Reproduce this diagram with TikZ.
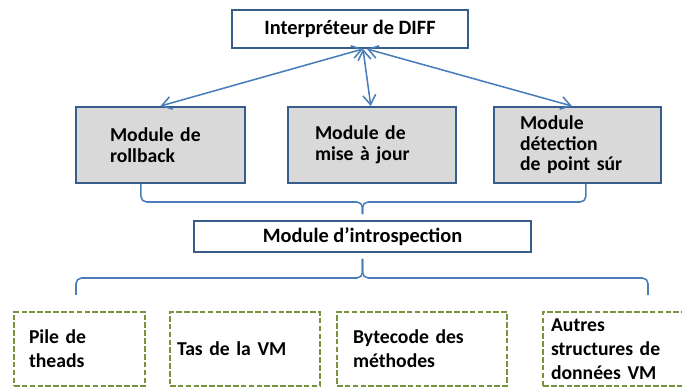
\documentclass[tikz,border=0pt]{standalone}
\usepackage{fontspec}
\setmainfont{Carlito}
\usepackage{xcolor}
\usepackage{tikz}
\usetikzlibrary{arrows.meta, positioning, calc}

\definecolor{boxblue}{RGB}{56,93,138}
\definecolor{linkblue}{RGB}{74,126,187}
\definecolor{modgray}{RGB}{217,217,217}
\definecolor{dataolive}{RGB}{119,147,60}

\begin{document}
\begin{tikzpicture}[
    % Styles
    topbox/.style={rectangle, draw=boxblue, line width=1.4pt, fill=white, minimum height=0.95cm, align=center, font=\fontsize{14.5}{14.2}\selectfont\bfseries},
    modbox/.style={rectangle, draw=boxblue, line width=1.4pt, fill=modgray, minimum height=1.9cm, align=left, font=\fontsize{14}{14.6}\selectfont\bfseries},
    databox/.style={rectangle, draw=dataolive, line width=1.3pt, dash pattern=on 4pt off 1.6pt, minimum height=1.85cm, align=left, font=\fontsize{14}{17}\selectfont\bfseries},
    biarrow/.style={{Straight Barb[length=2.4mm,width=3.2mm]}-{Straight Barb[length=2.4mm,width=3.2mm]}, draw=linkblue, line width=1.1pt},
    brace/.style={draw=linkblue, line width=1.1pt, rounded corners=4pt},
]
\useasboundingbox (0,0) rectangle (17.05,9.675);

% ===== TOP: DIFF INTERPRETER =====
\node[topbox, minimum width=5.9cm] (diff) at (8.75, 8.95) {Interpréteur de DIFF};

% ===== MODULES =====
\node[modbox, text width=2.525cm, inner xsep=0.85cm] (roll) at (4.0125, 6.05) {Module de\\rollback};
\node[modbox, text width=2.85cm, inner xsep=0.675cm] (maj) at (9.3, 6.05) {Module de\\mise à jour};
\node[modbox, text width=2.875cm, inner xsep=0.65cm] (safe) at (14.4375, 6.05) {Module\\détection\\de point súr};

% ===== INTROSPECTION =====
\node[topbox, minimum width=8.425cm, minimum height=0.775cm] (intro) at (9.0625, 3.7625) {Module d’introspection};

% ===== VM DATA =====
\node[databox, text width=2.525cm, inner xsep=0.375cm] (stack) at (1.9875, 0.95) {Pile de\\theads};
\node[databox, text width=3.4cm, inner xsep=0.175cm] (heap) at (6.125, 0.95) {Tas de la VM};
\node[databox, text width=3.45cm, inner xsep=0.4cm] (code) at (10.55, 0.95) {Bytecode des\\méthodes};
\node[databox, text width=3.525cm, inner xsep=0.2cm] (other) at (15.5375, 0.95) {Autres\\structures de\\données VM};

% ===== ARROWS =====
\coordinate (hub) at ($(diff.south)+(0.325,0)$);
\draw[biarrow] (hub) -- (roll.north);
\draw[biarrow] (hub) -- ($(maj.north)+(-0.03,0)$);
\draw[biarrow] ($(hub)+(0.1,0)$) -- ($(safe.north)+(-0.14,0)$);

% Modules to introspection
\draw[brace] ($(roll.south)+(-0.49,0)$) -- ++(0,-0.45) -| ($(intro.north)+(0,0.15)$);
\draw[brace] ($(safe.south)+(0.21,0)$) -- ++(0,-0.45) -| ($(intro.north)+(0,0.15)$);

% Introspection to VM data
\coordinate (ldata) at (1.9, 2.3);
\coordinate (rdata) at (16.2, 2.3);
\draw[brace] ($(intro.south)+(0,-0.15)$) -- ++(0,-0.475) -| (ldata);
\draw[brace] ($(intro.south)+(0,-0.15)$) -- ++(0,-0.475) -| (rdata);

\end{tikzpicture}
\end{document}
